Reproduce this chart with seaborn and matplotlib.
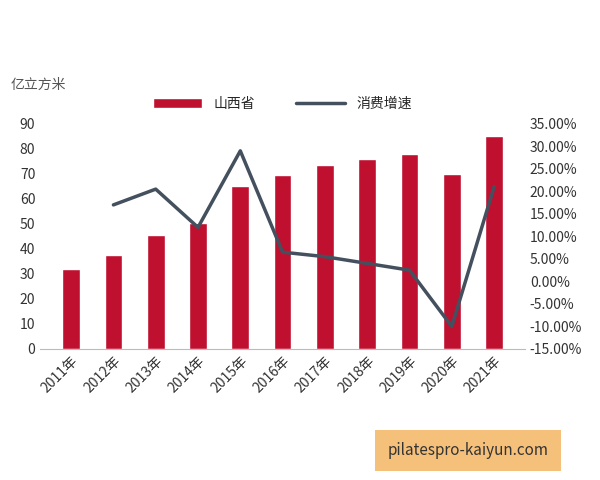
import matplotlib
matplotlib.use("Agg")
import matplotlib.pyplot as plt
import seaborn as sns
import pandas as pd
import numpy as np

years = ["2011年","2012年","2013年","2014年","2015年","2016年","2017年","2018年","2019年","2020年","2021年"]
volume = [32, 37.5, 45.5, 50.5, 65, 69.5, 73.5, 76, 78, 70, 85]
growth = [np.nan, 17.0, 20.5, 12.0, 29.0, 6.5, 5.5, 4.0, 2.5, -10.0, 21.0]

sns.set_style("white")
plt.rcParams['font.family'] = ['Noto Sans CJK SC', 'DejaVu Sans']

fig = plt.figure(figsize=(6, 4.8), dpi=100)
ax = fig.add_axes([0.067, 0.273, 0.808, 0.469])
df = pd.DataFrame({"year": years, "v": volume})
sns.barplot(data=df, x="year", y="v", color="#C0102F", saturation=1, width=0.42, ax=ax, label="山西省")
ax.set_ylim(0, 90)
ax.set_yticks(range(0, 91, 10))
ax.set_xlabel(""); ax.set_ylabel("")
for s in ["top", "right", "left"]:
    ax.spines[s].set_visible(False)
ax.spines["bottom"].set_color("#BBBBBB")
ax.tick_params(axis="x", rotation=45, labelsize=10, colors="#333333", length=0)
ax.tick_params(axis="y", labelsize=10, colors="#333333", length=0)
for lab in ax.get_xticklabels():
    lab.set_ha("right"); lab.set_rotation_mode("anchor")

ax2 = ax.twinx()
sns.lineplot(x=np.arange(len(years)), y=growth, color="#44505E", linewidth=2.5, ax=ax2, label="消费增速", legend=False)
ax2.set_ylim(-15, 35)
ax2.set_yticks(range(-15, 36, 5))
ax2.set_yticklabels([f"{v:.2f}%" for v in range(-15, 36, 5)])
ax2.tick_params(axis="y", labelsize=10, colors="#333333", length=0)
for s in ax2.spines.values():
    s.set_visible(False)

h1, l1 = ax.get_legend_handles_labels()
h2, l2 = ax2.get_legend_handles_labels()
ax.legend(h1 + h2, l1 + l2, loc="center", bbox_to_anchor=(0.5, 1.09), ncol=2, frameon=False,
          fontsize=10, handlelength=3.5, columnspacing=3)

fig.text(0.017, 0.815, "亿立方米", fontsize=10, color="#555555")
fig.text(0.78, 0.062, "pilatespro-kaiyun.com", fontsize=11, color="#333333", ha="center", va="center",
         bbox=dict(boxstyle="square,pad=0.8", fc="#F5C07A", ec="none"))
fig.savefig("out.png")
